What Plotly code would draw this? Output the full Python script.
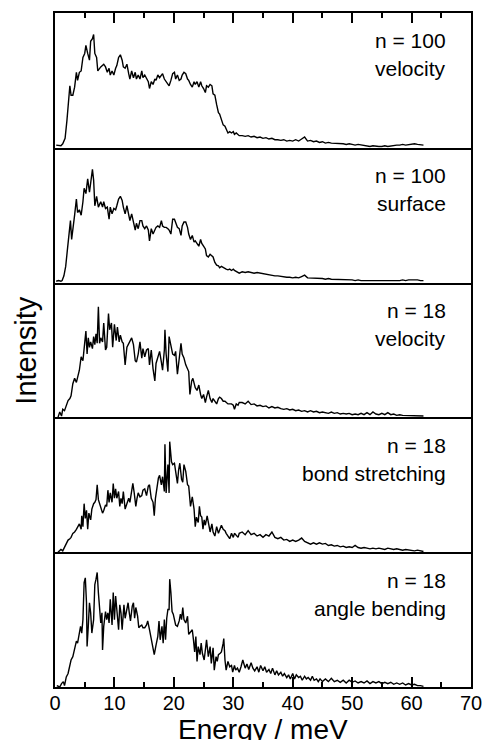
import plotly.graph_objects as go
from plotly.subplots import make_subplots

# Energy (meV), intensity (arb. units, 0-100 per panel)
v100 = [(0.2,2),(0.6,2),(1.0,1.5),(1.3,3),(1.7,7),(2.0,20),(2.3,35),(2.5,46),(2.7,39),(3.0,39),
        (3.3,45),(3.6,56),(3.8,50),(4.1,56),(4.4,57),(4.7,67),(5.0,70),(5.2,76),(5.5,70),(5.8,65),
        (6.0,79),(6.3,81),(6.5,84),(6.7,70),(7.0,67),(7.2,57),(7.7,60),(8.2,62),(8.5,60),(8.8,56),
        (9.1,59),(9.3,54),(9.6,57),(9.9,54),(10.2,59),(10.4,61),(10.7,67),(11.0,69),(11.3,65),(11.5,60),
        (11.8,59),(12.1,62),(12.4,55),(12.6,51),(12.9,57),(13.2,52),(13.5,56),(13.7,51),(14.0,54),(14.3,51),
        (14.6,57),(14.8,52),(15.1,54),(15.4,51),(15.7,49),(15.9,44),(16.2,49),(16.5,47),(16.8,51),(17.0,50),
        (17.3,54),(17.6,52),(17.9,54),(18.1,55),(18.4,51),(18.7,49),(19.0,47),(19.2,46),(19.5,50),(19.8,55),
        (20.1,56),(20.3,51),(20.6,54),(20.9,50),(21.2,51),(21.4,54),(21.7,56),(22.0,55),(22.3,51),(22.5,50),
        (22.8,47),(23.1,45),(23.4,49),(23.6,47),(23.9,49),(24.2,45),(24.5,49),(24.7,46),(25.0,44),(25.3,41),
        (25.5,46),(25.8,45),(26.1,47),(26.4,46),(26.6,40),(26.9,39),(27.2,32),(27.5,26),(27.7,25),(28.0,20),
        (28.3,17),(28.6,16),(28.8,14),(29.1,11),(29.4,12),(29.7,11),(30.0,12),(30.2,10),(30.5,11),(30.8,10),
        (31.0,9),(31.5,9),(32.0,8.5),(32.5,9),(33.0,8),(33.5,8.5),(34.0,7.5),(34.5,8),(35.0,7),(35.5,7.5),
        (36.0,6.5),(36.5,7),(37.0,6),(37.5,6),(38.0,5.5),(38.5,6),(39.0,5),(39.5,5.5),(40.0,5),(40.5,6),
        (41.0,5),(41.5,6.5),(42.0,8),(42.5,5),(43.0,5.5),(43.5,4.5),(44.0,5),(44.5,4),(45.0,4.5),(45.5,3.5),
        (46.0,4),(46.5,3.5),(47.0,3.5),(47.5,3),(48.0,3.5),(48.5,3),(49.0,2.5),(49.5,3),(50.0,2.5),(50.5,2),
        (51.0,2.5),(51.5,2),(52.0,1.5),(52.5,1.5),(53.0,1),(53.5,1.5),(54.0,1),(54.5,1),(55.0,1),(55.5,1.5),
        (56.0,1),(56.5,1.5),(57.0,1.5),(57.5,2),(58.0,2),(58.5,2.5),(59.0,2),(59.5,2.5),(60.0,2.5),(60.5,3),
        (61.0,2.5),(61.5,2.5),(62.0,2)]

s100 = [(0.2,1),(0.6,1.5),(1.0,1),(1.2,1.5),(1.5,5),(1.8,12),(2.1,25),(2.4,40),(2.6,46),(2.8,32),
        (3.0,41),(3.3,50),(3.6,62),(3.8,52),(4.1,54),(4.4,50),(4.7,60),(4.9,70),(5.2,66),(5.5,77),
        (5.8,67),(6.0,75),(6.3,84),(6.5,76),(6.7,57),(7.0,64),(7.3,56),(7.7,60),(8.0,56),(8.2,60),
        (8.5,55),(8.8,56),(9.1,47),(9.3,56),(9.6,51),(9.9,55),(10.2,54),(10.4,57),(10.7,62),(11.0,64),
        (11.3,61),(11.5,56),(11.8,51),(12.1,57),(12.4,50),(12.6,46),(12.9,51),(13.2,45),(13.5,39),(13.7,44),
        (14.0,40),(14.3,46),(14.6,46),(14.8,42),(15.1,40),(15.4,42),(15.7,39),(15.9,31),(16.2,40),(16.5,36),
        (16.8,39),(17.0,41),(17.3,42),(17.6,41),(17.9,46),(18.1,42),(18.4,41),(18.7,41),(19.0,40),(19.2,39),
        (19.5,36),(19.8,47),(20.1,47),(20.3,44),(20.6,41),(20.9,40),(21.2,35),(21.4,42),(21.7,45),(22.0,45),
        (22.3,41),(22.5,36),(22.8,32),(23.1,35),(23.4,30),(23.6,31),(23.9,29),(24.2,27),(24.5,32),(24.7,29),
        (25.0,27),(25.3,25),(25.5,20),(25.8,19),(26.1,21),(26.4,20),(26.6,19),(26.9,15),(27.2,13),(27.5,12.5),
        (27.7,11),(28.0,12),(28.3,11),(28.6,10.5),(28.8,10),(29.1,9.5),(29.4,10),(29.7,9),(30.0,10),(30.2,9),
        (30.5,8),(30.8,7.5),(31.0,7),(31.5,8),(32.0,7.5),(32.5,8),(33.0,7.5),(33.5,7),(34.0,7.5),(34.5,7),
        (35.0,6.5),(35.5,6),(36.0,6),(36.5,5.5),(37.0,5),(37.5,5),(38.0,4.5),(38.5,4.5),(39.0,4),(39.5,4),
        (40.0,3.5),(40.5,4),(41.0,3.5),(41.5,4.5),(42.0,5.5),(42.5,3.5),(43.0,3.5),(43.5,3),(44.0,3.5),(44.5,3),
        (45.0,3),(45.5,2.5),(46.0,3),(46.5,2.5),(47.0,2.5),(47.5,2),(48.0,2.5),(48.5,2),(49.0,2),(49.5,2.5),
        (50.0,2),(50.5,1.5),(51.0,2),(51.5,1.5),(52.0,1.5),(52.5,1),(53.0,1.5),(53.5,1),(54.0,1),(54.5,1.5),
        (55.0,1),(55.5,1),(56.0,1.5),(56.5,1),(57.0,1),(57.5,1.5),(58.0,1.5),(58.5,2),(59.0,1.5),(59.5,2),
        (60.0,2),(60.5,2.5),(61.0,2),(61.5,1.5),(62.0,1.5)]

v18 = [(0.5,0),(0.8,4),(1.1,1),(1.3,6),(1.6,5),(1.9,9),(2.2,12.5),(2.5,14),(2.7,16),(3.0,25),
       (3.3,29),(3.6,26),(3.8,29),(4.1,35),(4.4,45),(4.7,42),(4.9,51),(5.2,64),(5.4,47),(5.6,59),
       (5.8,52),(6.0,56),(6.3,51),(6.5,60),(6.7,54),(6.9,62),(7.1,55),(7.3,82),(7.5,55),(7.7,59),
       (8.0,56),(8.2,70),(8.5,50),(8.7,52),(9.0,77),(9.2,65),(9.5,70),(9.7,52),(10.0,69),(10.3,57),
       (10.5,67),(10.8,56),(11.0,61),(11.3,56),(11.5,55),(11.8,39),(12.1,52),(12.4,55),(12.6,57),(12.9,59),
       (13.2,54),(13.5,42),(13.7,41),(14.0,47),(14.3,56),(14.6,44),(14.8,51),(15.1,45),(15.4,50),(15.7,51),
       (15.9,39),(16.2,50),(16.5,36),(16.8,27),(17.0,40),(17.3,44),(17.6,49),(17.9,41),(18.1,35),(18.4,50),
       (18.5,65),(18.7,47),(19.0,34),(19.2,60),(19.5,54),(19.8,47),(20.1,46),(20.3,49),(20.6,32),(20.9,45),
       (21.2,55),(21.4,47),(21.7,44),(22.0,39),(22.3,36),(22.5,34),(22.7,17),(23.0,27),(23.2,29),(23.4,24),
       (23.6,22),(23.9,20),(24.2,24),(24.5,17),(24.7,14),(25.0,17),(25.3,11),(25.5,15),(25.8,20),(26.1,14),
       (26.4,11),(26.6,14),(26.9,12),(27.2,10),(27.5,14),(27.7,15),(28.0,14),(28.3,12),(28.6,12),(28.8,11),
       (29.1,10),(29.4,10),(29.7,10),(30.0,9),(30.2,6),(30.5,10),(30.8,9),(31.0,11),(31.5,11),(32.0,10),
       (32.5,12),(33.0,9.5),(33.5,10),(34.0,8.5),(34.5,9),(35.0,8),(35.5,8.5),(36.0,7),(36.5,8),(37.0,7),
       (37.5,7.5),(38.0,6.5),(38.5,6),(39.0,6.5),(39.5,5.5),(40.0,6),(40.5,5),(41.0,5.5),(41.5,4.5),(42.0,5),
       (42.5,4),(43.0,5),(43.5,4),(44.0,4.5),(44.5,3.5),(45.0,4),(45.5,3.5),(46.0,3),(46.5,4),(47.0,3),
       (47.5,3.5),(48.0,2.5),(48.5,3),(49.0,2.5),(49.5,3),(50.0,2),(50.5,2.5),(51.0,2),(51.5,3),(52.0,2),
       (52.5,3.5),(53.0,2),(53.5,4),(54.0,2.5),(54.5,2),(55.0,3),(55.5,2),(56.0,3.5),(56.5,2),(57.0,2.5),
       (57.5,1.5),(58.0,2),(58.5,1.5),(59.0,1.5),(59.5,1),(60.0,1.5),(60.5,1),(61.0,1.5),(61.5,1),(62.0,1)]

bond18 = [(0.5,0),(1.0,2),(1.3,1),(1.6,4),(1.9,6),(2.2,9),(2.5,10),(2.7,11),(3.0,14),(3.3,15),
          (3.6,17),(3.8,19),(4.1,21),(4.4,17),(4.5,27),(4.7,19),(4.9,36),(5.1,25),(5.3,31),(5.5,17),
          (5.7,29),(6.0,24),(6.2,32),(6.5,36),(6.7,37),(6.9,39),(7.1,50),(7.3,39),(7.6,34),(7.8,32),
          (8.0,29),(8.2,31),(8.5,35),(8.7,34),(8.9,46),(9.1,37),(9.3,44),(9.6,37),(9.8,51),(10.0,40),
          (10.2,47),(10.4,40),(10.7,45),(10.9,34),(11.1,40),(11.3,36),(11.5,45),(11.8,32),(12.1,36),(12.4,40),
          (12.6,37),(12.9,44),(13.1,51),(13.3,45),(13.6,34),(13.8,40),(14.0,44),(14.3,41),(14.6,42),(14.8,46),
          (15.1,47),(15.4,42),(15.7,49),(15.9,50),(16.2,40),(16.5,37),(16.7,27),(16.9,40),(17.2,50),(17.4,55),
          (17.6,57),(17.9,50),(18.1,56),(18.4,45),(18.5,80),(18.7,44),(19.0,65),(19.2,44),(19.3,82),(19.6,67),
          (19.8,65),(20.1,66),(20.3,60),(20.6,51),(20.8,61),(21.0,66),(21.3,54),(21.5,52),(21.7,65),(22.0,60),
          (22.3,50),(22.5,49),(22.8,34),(23.1,41),(23.4,32),(23.6,19),(23.8,26),(24.1,22),(24.3,34),(24.5,27),
          (24.7,26),(24.9,17),(25.1,24),(25.3,20),(25.6,27),(25.8,22),(26.1,15),(26.4,21),(26.6,15),(26.9,12),
          (27.2,19),(27.5,14),(27.7,17),(28.0,20),(28.3,17),(28.6,16),(28.8,14),(29.1,12),(29.4,10),(29.7,14),
          (30.0,11),(30.2,14),(30.5,12),(30.8,11),(31.0,14),(31.5,15),(32.0,13),(32.5,16),(33.0,13),(33.5,14),
          (34.0,12),(34.5,13),(35.0,11),(35.5,13),(36.0,12),(36.5,15),(37.0,11),(37.5,10),(38.0,11),(38.5,9),
          (39.0,9.5),(39.5,8),(40.0,9),(40.5,8),(41.0,9),(41.5,10.5),(42.0,8),(42.5,7),(43.0,6),(43.5,7),
          (44.0,6),(44.5,7),(45.0,6),(45.5,6.5),(46.0,5),(46.5,5.5),(47.0,4.5),(47.5,5),(48.0,4),(48.5,4.5),
          (49.0,3.5),(49.5,4),(50.0,3.5),(50.5,5),(51.0,3.5),(51.5,3),(52.0,3.5),(52.5,3),(53.0,2.5),(53.5,3),
          (54.0,2.5),(54.5,3),(55.0,2.5),(55.5,2),(56.0,3),(56.5,2.5),(57.0,2),(57.5,2.5),(58.0,2),(58.5,1.5),
          (59.0,2),(59.5,1.5),(60.0,1.5),(60.5,1),(61.0,1.5),(61.5,1),(62.0,0.5)]

angle18 = [(0.3,1),(0.8,0),(1.1,2.5),(1.4,4),(1.6,1),(1.9,7.5),(2.2,10),(2.5,16),(2.7,20),(3.0,22.5),
           (3.3,27.5),(3.6,34),(3.8,32.5),(4.1,39),(4.3,45),(4.5,40),(4.7,50),(4.9,77.5),(5.1,81),(5.3,62.5),
           (5.4,30),(5.6,45),(5.8,62.5),(6.0,55),(6.2,40),(6.5,50),(6.7,76),(6.9,80),(7.1,85),(7.3,70),
           (7.5,55),(7.7,47.5),(7.9,55),(8.0,27.5),(8.2,45),(8.5,56),(8.7,50),(8.9,55),(9.1,47.5),(9.3,65),
           (9.6,46),(9.8,70),(10.0,50),(10.2,67.5),(10.4,57.5),(10.7,42.5),(10.9,61),(11.1,55),(11.3,42.5),(11.6,61),
           (11.8,51),(12.1,57.5),(12.3,62.5),(12.5,55),(12.7,49),(13.0,60),(13.2,62.5),(13.4,51),(13.6,59),(13.9,52.5),
           (14.1,44),(14.3,45),(14.6,46),(14.8,44),(15.1,44),(15.4,46),(15.6,49),(15.9,42.5),(16.2,36),(16.5,27.5),
           (16.7,24),(17.0,31),(17.3,37.5),(17.5,49),(17.7,35),(18.0,45),(18.2,32.5),(18.4,50),(18.6,35),(18.8,51),
           (19.0,57.5),(19.2,57.5),(19.3,80),(19.5,70),(19.7,56),(19.9,54),(20.1,50),(20.3,46),(20.6,45),(20.9,49),
           (21.1,54),(21.3,50),(21.5,59),(21.7,50),(22.0,47.5),(22.3,52.5),(22.5,39),(22.8,41),(23.1,42.5),(23.3,35),
           (23.5,26),(23.7,37.5),(23.9,19),(24.1,30),(24.4,24),(24.6,32.5),(24.8,25),(25.1,20),(25.3,27.5),(25.5,35),
           (25.8,22.5),(26.1,30),(26.3,17.5),(26.6,29),(26.8,12.5),(27.1,22.5),(27.3,19),(27.5,24),(27.8,25),(28.0,26),
           (28.3,32.5),(28.4,36),(28.6,20),(28.8,12.5),(29.1,19),(29.4,15),(29.7,16),(29.9,11),(30.2,16),(30.4,12.5),
           (30.7,14),(31.0,11),(31.3,15),(31.6,20),(32.0,14),(32.3,17),(32.6,13),(33.0,18),(33.3,14),(33.6,12),
           (34.0,15),(34.3,11),(34.6,16),(35.0,12),(35.3,15),(35.6,11),(36.0,13),(36.3,10),(36.6,14),(37.0,9),
           (37.3,12),(37.6,9),(38.0,11),(38.3,8),(38.6,10),(39.0,7),(39.3,9),(39.6,6),(40.0,10),(40.3,6),
           (40.6,9),(41.0,7),(41.3,8),(41.6,5),(42.0,8),(42.3,6),(42.6,7),(43.0,5),(43.3,8),(43.6,5),
           (44.0,6),(44.3,4),(44.6,6),(45.0,4),(45.5,6),(46.0,4),(46.5,6.5),(47.0,4),(47.5,5),(48.0,3.5),
           (48.5,5),(49.0,3),(49.5,5),(50.0,3.5),(50.5,4.5),(51.0,3),(51.5,4),(52.0,3),(52.5,4.5),(53.0,2.5),
           (53.5,4),(54.0,3),(54.5,4),(55.0,2.5),(55.5,3.5),(56.0,2.5),(56.5,3.5),(57.0,2),(57.5,3),(58.0,2),
           (58.5,3),(59.0,1.5),(59.5,2.5),(60.0,1.5),(60.5,2),(61.0,1),(61.5,1),(62.0,0.5)]

panels = [v100, s100, v18, bond18, angle18]
size_labels = ["n = 100", "n = 100", "n = 18", "n = 18", "n = 18"]
mode_labels = ["velocity", "surface", "velocity", "bond stretching", "angle bending"]
x_ticks = [0, 10, 20, 30, 40, 50, 60, 70]

FONT = "Liberation Sans, Arial, Helvetica, sans-serif"
W, H = 494, 740
L, R, T, B = 55, 14, 13, 53
n = len(panels)

fig = make_subplots(rows=n, cols=1, shared_xaxes=True, vertical_spacing=0)

for i, series in enumerate(panels):
    fig.add_trace(go.Scatter(x=[p[0] for p in series], y=[p[1] for p in series],
                             mode="lines", line=dict(color="black", width=1.4),
                             showlegend=False, hoverinfo="skip"), row=i + 1, col=1)

frame = dict(showline=True, linecolor="black", linewidth=2, showgrid=False, zeroline=False)
major = dict(ticks="inside", ticklen=10, tickwidth=1.5, tickcolor="black")
minor = dict(ticks="inside", ticklen=5, tickwidth=1.5, tickcolor="black", dtick=5, tick0=0)

for i in range(n):
    # only the top panel mirrors its x line, so each divider is drawn once
    xa = dict(frame, range=[0, 70], tickvals=x_ticks, showticklabels=False, ticks="",
              mirror=(i == 0))
    if i == 0:
        xa.update(major, side="top", minor=minor)
    if i == n - 1:
        xa.update(major, minor=minor, showticklabels=True,
                  ticktext=[str(v) for v in x_ticks], ticklabelstandoff=-3,
                  tickfont=dict(family=FONT, size=20, color="black"))
    fig.update_xaxes(xa, row=i + 1, col=1)
    fig.update_yaxes(dict(frame, mirror=True, range=[0, 100], ticks="", showticklabels=False),
                     row=i + 1, col=1)

plot_h = H - T - B
panel_h = plot_h / n
annotations = []
for i in range(n):
    top_px = T + i * panel_h
    for text, off in ((size_labels[i], 28), (mode_labels[i], 56)):
        annotations.append(dict(text=text, xref="paper", yref="paper",
                                x=(456 - L) / (W - L - R), y=(T + plot_h - (top_px + off)) / plot_h,
                                xanchor="right", yanchor="middle", showarrow=False,
                                font=dict(family=FONT, size=21, color="black")))

annotations.append(dict(text="Intensity", xref="paper", yref="paper",
                        x=(25 - L) / (W - L - R), y=0.5, xanchor="center", yanchor="middle",
                        textangle=-90, showarrow=False,
                        font=dict(family=FONT, size=29, color="black")))
annotations.append(dict(text="Energy / meV", xref="paper", yref="paper",
                        x=0.5, y=(T + plot_h - 729) / plot_h, xanchor="center", yanchor="middle",
                        showarrow=False, font=dict(family=FONT, size=28, color="black")))

fig.update_layout(width=W, height=H, margin=dict(l=L, r=R, t=T, b=B),
                  plot_bgcolor="white", paper_bgcolor="white",
                  annotations=annotations, font=dict(family=FONT, color="black"))

fig.write_html("out.html")
